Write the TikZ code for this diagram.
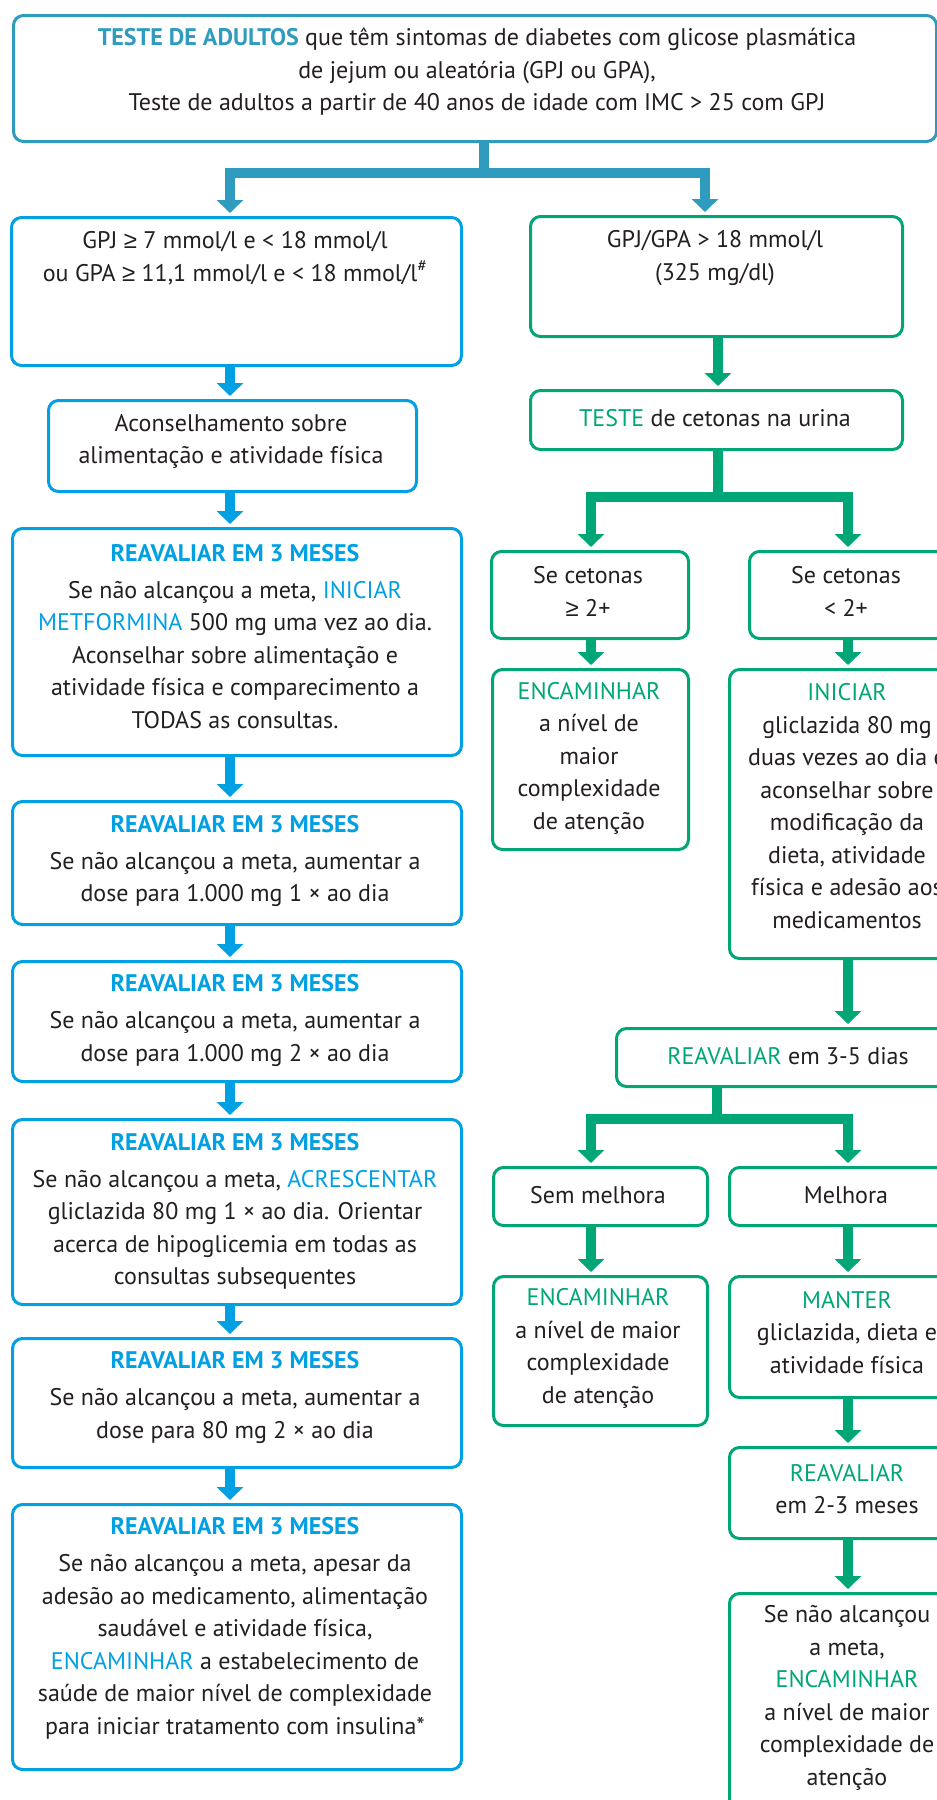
\documentclass[tikz,border=0pt]{standalone}
\usepackage{fontspec}
\setmainfont{PT Sans}
\newfontfamily\geqfont{Liberation Sans}
\usetikzlibrary{arrows.meta}

\definecolor{tealc}{RGB}{47,155,190}
\definecolor{bluec}{RGB}{0,160,227}
\definecolor{greenc}{RGB}{0,166,118}
\definecolor{ink}{RGB}{35,31,32}

\tikzset{
  box/.style={draw, line width=3pt, rounded corners=10pt, inner sep=0pt, anchor=north west},
  bluebox/.style={box, draw=bluec},
  tealbox/.style={box, draw=tealc},
  greenbox/.style={box, draw=greenc},
  txt/.style={text=ink, align=center, inner sep=0pt, font=\fontsize{24}{32.5}\selectfont},
  conn/.style={line width=10pt, line join=miter},
  tipped/.style={conn, -{Triangle[width=26pt,length=13pt]}, shorten >=3pt},
}
% box from corner (x1,y1) to corner (x2,y2)
\newcommand\mkbox[6]{\node[#2, minimum width={(#5-#3)*1pt}, minimum height={(#6-#4)*1pt}] (#1) at (#3,#4) {};}
\newcommand\hb[1]{{\color{bluec}\bfseries #1}}
\newcommand\hl[1]{{\color{bluec}#1}}
\newcommand\hg[1]{{\color{greenc}#1}}
\newcommand\gte{{\geqfont ≥}}

\begin{document}
\begin{tikzpicture}[x=1pt, y=-1pt]
\path[use as bounding box] (0,0) rectangle (937,1800);
\clip (0,0) rectangle (937,1800);
\fill[white] (0,0) rectangle (937,1800);

% ---- boxes ----
\mkbox{top}{tealbox}{12}{14}{935}{140}
\mkbox{gpj}{bluebox}{10}{216}{460}{364}
\mkbox{acons}{bluebox}{47}{399}{415}{490}
\mkbox{r1}{bluebox}{11}{527}{460}{754}
\mkbox{r2}{bluebox}{11}{800}{460}{923}
\mkbox{r3}{bluebox}{11}{960}{460}{1080}
\mkbox{r4}{bluebox}{11}{1118}{460}{1303}
\mkbox{r5}{bluebox}{11}{1337}{460}{1466}
\mkbox{r6}{bluebox}{11}{1503}{460}{1768}

\mkbox{gpa}{greenbox}{529}{215}{901}{335}
\mkbox{teste}{greenbox}{529}{389}{901}{448}
\mkbox{ket1}{greenbox}{490}{550}{687}{637}
\mkbox{ket2}{greenbox}{748}{550}{945}{637}
\mkbox{enc1}{greenbox}{491}{668}{687}{848}
\mkbox{ini}{greenbox}{728}{668}{968}{957}
\mkbox{rea1}{greenbox}{615}{1027}{965}{1085}
\mkbox{sem}{greenbox}{492}{1166}{706}{1224}
\mkbox{mel}{greenbox}{728}{1166}{968}{1224}
\mkbox{enc2}{greenbox}{492}{1275}{706}{1424}
\mkbox{man}{greenbox}{728}{1275}{968}{1396}
\mkbox{rea2}{greenbox}{728}{1446}{968}{1537}
\mkbox{fin}{greenbox}{728}{1592}{968}{1840}

% ---- texts ----
\node[txt] (top-t) at (477,72) {{\color{tealc}\bfseries TESTE DE ADULTOS} que têm sintomas de diabetes com glicose plasmática\\ de jejum ou aleatória (GPJ ou GPA),\\ Teste de adultos a partir de 40 anos de idade com IMC > 25 com GPJ};
\node[txt] (gpj-t) at (235,258) {GPJ \gte{} 7 mmol/l e < 18 mmol/l\\ ou GPA \gte{} 11,1 mmol/l e < 18 mmol/l\textsuperscript{\#}};
\node[txt] (acons-t) at (231,441.5) {Aconselhamento sobre\\ alimentação e atividade física};
\node[txt] (r1-t) at (235,636.5) {\hb{REAVALIAR EM 3 MESES}\\[4.5pt] Se não alcançou a meta, \hl{INICIAR}\\ \hl{METFORMINA} 500 mg uma vez ao dia.\\ Aconselhar sobre alimentação e\\ atividade física e comparecimento a\\ TODAS as consultas.};
\node[txt] (r2-t) at (235,861) {\hb{REAVALIAR EM 3 MESES}\\[4.5pt] Se não alcançou a meta, aumentar a\\ dose para 1.000 mg 1 × ao dia};
\node[txt] (r3-t) at (235,1020.5) {\hb{REAVALIAR EM 3 MESES}\\[4.5pt] Se não alcançou a meta, aumentar a\\ dose para 1.000 mg 2 × ao dia};
\node[txt] (r4-t) at (235,1211.5) {\hb{REAVALIAR EM 3 MESES}\\[4.5pt] Se não alcançou a meta, \hl{ACRESCENTAR}\\ gliclazida 80 mg 1 × ao dia. Orientar\\ acerca de hipoglicemia em todas as\\ consultas subsequentes};
\node[txt] (r5-t) at (235,1397.5) {\hb{REAVALIAR EM 3 MESES}\\[4.5pt] Se não alcançou a meta, aumentar a\\ dose para 80 mg 2 × ao dia};
\node[txt] (r6-t) at (235,1628.5) {\hb{REAVALIAR EM 3 MESES}\\[4.5pt] Se não alcançou a meta, apesar da\\ adesão ao medicamento, alimentação\\ saudável e atividade física,\\ \hl{ENCAMINHAR} a estabelecimento de\\ saúde de maior nível de complexidade\\ para iniciar tratamento com insulina*};

\node[txt] (gpa-t) at (715,258) {GPJ/GPA > 18 mmol/l\\ (325 mg/dl)};
\node[txt] (teste-t) at (715,418) {\hg{TESTE} de cetonas na urina};
\node[txt] (ket1-t) at (588,591.5) {Se cetonas\\ \gte{} 2+};
\node[txt] (ket2-t) at (846,591.5) {Se cetonas\\ < 2+};
\node[txt] (enc1-t) at (589,758) {\hg{ENCAMINHAR}\\ a nível de\\ maior\\ complexidade\\ de atenção};
\node[txt] (ini-t) at (847,806) {\hg{INICIAR}\\ gliclazida 80 mg\\ duas vezes ao dia e\\ aconselhar sobre\\ modificação da\\ dieta, atividade\\ física e adesão aos\\ medicamentos};
\node[txt] (rea1-t) at (788,1056) {\hg{REAVALIAR} em 3-5 dias};
\node[txt] (sem-t) at (598,1195) {Sem melhora};
\node[txt] (mel-t) at (846,1195) {Melhora};
\node[txt] (enc2-t) at (598,1348.5) {\hg{ENCAMINHAR}\\ a nível de maior\\ complexidade\\ de atenção};
\node[txt] (man-t) at (847,1332.5) {\hg{MANTER}\\ gliclazida, dieta e\\ atividade física};
\node[txt] (rea2-t) at (847,1489) {\hg{REAVALIAR}\\ em 2-3 meses};
\node[txt] (fin-t) at (847,1698) {Se não alcançou\\ a meta,\\ \hg{ENCAMINHAR}\\ a nível de maior\\ complexidade de\\ atenção};

% ---- column guides and junctions ----
\coordinate (lx) at (230,0);
\coordinate (gx) at (718,0);
\coordinate (k1x) at (591,0);
\coordinate (k2x) at (848,0);
\coordinate (tx) at (705,0);
\coordinate (tj) at (484,173);
\coordinate (gj1) at (718,497);
\coordinate (gj2) at (717,1119);

% ---- teal split from the top box ----
\draw[conn, draw=tealc] (top.south -| tj) -- (tj);
\draw[tipped, draw=tealc] (tj) -| (gpj.north -| lx);
\draw[tipped, draw=tealc] (tj) -| (gpa.north -| tx);

% ---- left (blue) column ----
\draw[tipped, draw=bluec] (gpj.south -| lx) -- (acons.north -| lx);
\draw[tipped, draw=bluec] (acons.south -| lx) -- (r1.north -| lx);
\draw[tipped, draw=bluec] (r1.south -| lx) -- (r2.north -| lx);
\draw[tipped, draw=bluec] (r2.south -| lx) -- (r3.north -| lx);
\draw[tipped, draw=bluec] (r3.south -| lx) -- (r4.north -| lx);
\draw[tipped, draw=bluec] (r4.south -| lx) -- (r5.north -| lx);
\draw[tipped, draw=bluec] (r5.south -| lx) -- (r6.north -| lx);

% ---- right (green) column ----
\draw[tipped, draw=greenc] (gpa.south -| gx) -- (teste.north -| gx);
\draw[conn, draw=greenc] (teste.south -| gx) -- (gj1);
\draw[tipped, draw=greenc] (gj1) -| (ket1.north -| k1x);
\draw[tipped, draw=greenc] (gj1) -| (ket2.north -| k2x);
\draw[tipped, draw=greenc] (ket1.south -| k1x) -- (enc1.north -| k1x);
\draw[tipped, draw=greenc] (ket2.south -| k2x) -- (ini.north -| k2x);
\draw[tipped, draw=greenc] (ini.south -| k2x) -- (rea1.north -| k2x);
\draw[conn, draw=greenc] (rea1.south -| gj2) -- (gj2);
\draw[tipped, draw=greenc] (gj2) -| (sem.north -| k1x);
\draw[tipped, draw=greenc] (gj2) -| (mel.north -| k2x);
\draw[tipped, draw=greenc] (sem.south -| k1x) -- (enc2.north -| k1x);
\draw[tipped, draw=greenc] (mel.south -| k2x) -- (man.north -| k2x);
\draw[tipped, draw=greenc] (man.south -| k2x) -- (rea2.north -| k2x);
\draw[tipped, draw=greenc] (rea2.south -| k2x) -- (fin.north -| k2x);
\end{tikzpicture}
\end{document}
